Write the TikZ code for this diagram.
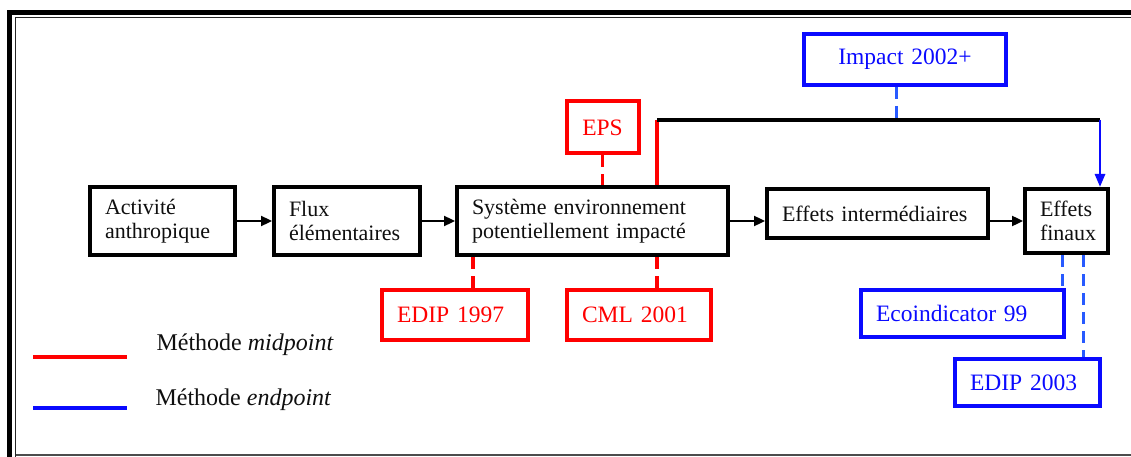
\documentclass[tikz,border=0pt]{standalone}
\usepackage{fontspec}
\setmainfont{Liberation Serif}
\usetikzlibrary{arrows.meta}
\definecolor{mred}{RGB}{255,0,0}
\definecolor{mblue}{RGB}{10,10,255}
\definecolor{mbluedash}{RGB}{40,90,255}
\definecolor{ink}{RGB}{15,15,15}
\tikzset{
  stage/.style={draw=black, line width=4pt, fill=white, inner xsep=15pt, inner ysep=0pt,
    align=left, text=ink, font=\fontsize{22}{24}\selectfont},
  midbox/.style={draw=mred, line width=4pt, fill=white, inner xsep=15pt, inner ysep=0pt,
    align=left, text=mred, font=\fontsize{23.5}{26}\selectfont},
  endbox/.style={draw=mblue, line width=4pt, fill=white, inner xsep=15pt, inner ysep=0pt,
    align=left, text=mblue, font=\fontsize{23.5}{26}\selectfont},
  flow/.style={draw=black, line width=2.3pt, -{Triangle[length=11pt,width=10pt]}},
  midlink/.style={draw=mred, line width=3.5pt, dash pattern=on 12pt off 7pt},
  endlink/.style={draw=mbluedash, line width=3pt, dash pattern=on 12pt off 7pt},
  legtext/.style={anchor=west, text=ink, font=\fontsize{24}{27}\selectfont},
}
\begin{document}
\begin{tikzpicture}[x=1pt, y=-1pt]
  \useasboundingbox (0,0) rectangle (1131,457);
  % page frame: thick outer rule with a thin inner rule
  \draw[line width=5pt, black] (9.5,457) -- (9.5,12.5) -- (1131,12.5);
  \draw[line width=1.6pt, black!85] (15.5,457) -- (15.5,17.5) -- (1131,17.5);
  \draw[line width=1.6pt, black!70] (15.5,455) -- (1131,455);

  % main chain of stages
  \node[stage, text width=115pt, minimum height=68pt] (act) at (162.5,221) {Activité\\anthropique};
  \node[stage, text width=116pt, minimum height=68pt] (flux) at (347,221) {Flux\\élémentaires};
  \node[stage, text width=241pt, minimum height=68pt] (sys) at (592.5,221) {Système environnement\\potentiellement impacté};
  \node[stage, text width=191pt, minimum height=49pt] (inter) at (877.5,213.5) {Effets intermédiaires};
  \node[stage, text width=53pt, minimum height=64pt] (fin) at (1066.5,221) {Effets\\finaux};

  \draw[flow] (act.east) -- (flux.west);
  \draw[flow] (flux.east) -- (sys.west);
  \draw[flow] (sys.east) -- (sys.east -| inter.west);
  \draw[flow] (inter.east |- fin.west) -- (fin.west);

  % midpoint methods
  \node[midbox, text width=42pt, align=center, minimum height=52pt] (eps) at (602.5,127.5) {EPS};
  \node[midbox, text width=116pt, minimum height=50pt] (edip97) at (455,315) {EDIP 1997};
  \node[midbox, text width=114pt, minimum height=50pt] (cml) at (639,315) {CML 2001};

  % endpoint methods
  \node[endbox, text width=172pt, align=center, minimum height=51pt] (imp) at (905,59.5) {Impact 2002+};
  \node[endbox, text width=173pt, minimum height=47pt] (eco) at (962.5,313.5) {Ecoindicator 99};
  \node[endbox, text width=115pt, minimum height=47pt] (edip03) at (1027.5,382.5) {EDIP 2003};

  % links of the methods to the chain
  \coordinate (jn) at (657,120);
  \coordinate (jm) at (896,120);
  \coordinate (jr) at (1100,120);
  \coordinate (e97) at (473,0);
  \coordinate (c01) at (657,0);
  \coordinate (e99) at (1062,0);
  \coordinate (e03) at (1083,0);

  \draw[midlink] (eps.south) -- (eps.south |- sys.north);
  \draw[midlink] (sys.south -| e97) -- (edip97.north -| e97);
  \draw[midlink] (sys.south -| c01) -- (cml.north -| c01);
  \draw[endlink] (imp.south -| jm) -- (jm);
  \draw[endlink] (fin.south -| e99) -- (eco.north -| e99);
  \draw[endlink] (fin.south -| e03) -- (edip03.north -| e03);

  \draw[mred, line width=4pt] (sys.north -| jn) -- (jn);
  \draw[black, line width=4pt] (jn) -- (jr);
  \draw[mblue, line width=2.8pt, -{Triangle[length=13pt,width=10pt]}] (jr) -- (fin.north -| jr);

  % legend
  \draw[mred, line width=4pt] (33,357) -- (127,357);
  \draw[mblue, line width=4pt] (33,408) -- (127,408);
  \node[legtext] (lmid) at (153,345) {Méthode \textit{midpoint}};
  \node[legtext] (lend) at (152,400) {Méthode \textit{endpoint}};
\end{tikzpicture}
\end{document}
